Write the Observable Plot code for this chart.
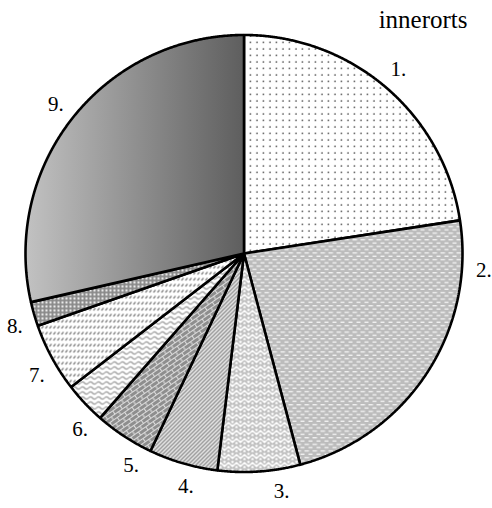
<!DOCTYPE html>
<html>
<head>
<meta charset="utf-8">
<script src="https://cdn.jsdelivr.net/npm/d3@7"></script>
<script src="https://cdn.jsdelivr.net/npm/@observablehq/plot@0.6"></script>
<style>
  html, body { margin: 0; padding: 0; background: #fff; }
  svg { display: block; }
</style>
</head>
<body>
<div id="chart"></div>
<script>
// ---- data ----
const categories = ["1.", "2.", "3.", "4.", "5.", "6.", "7.", "8.", "9."];
const values = [22.6, 23.3, 6.1, 5.1, 4.4, 3.1, 5.1, 1.8, 28.6];
const title = "innerorts";
// label placement angles (degrees clockwise from 12 o'clock) — layout only
const labelAngles = [40, 94, 171, 194, 208, 223, 239.5, 252.5, 308.5];

// ---- layout ----
const W = 492, H = 508;
const cx = 243.5, cy = 253, R = 218.5;

const arcs = d3.pie().sort(null).value(d => d)(values);

// polygon points for each slice, in unit-radius data coordinates
const points = [];
arcs.forEach((a, i) => {
  points.push({key: i, x: 0, y: 0});
  const n = Math.max(2, Math.ceil((a.endAngle - a.startAngle) / (Math.PI / 720)));
  for (let k = 0; k <= n; k++) {
    const t = a.startAngle + (a.endAngle - a.startAngle) * k / n;
    points.push({key: i, x: Math.sin(t), y: Math.cos(t)});
  }
  points.push({key: i, x: 0, y: 0});
});

const labels = categories.map((c, i) => {
  const t = labelAngles[i] * Math.PI / 180;
  return {text: c, x: 1.1 * Math.sin(t), y: 1.1 * Math.cos(t)};
});

const sliceMarks = arcs.map((a, i) =>
  Plot.line(points.filter(p => p.key === i), {
    x: "x", y: "y",
    fill: `url(#pat${i + 1})`,
    stroke: "#000",
    strokeWidth: 2.6,
    strokeLinejoin: "miter"
  })
);

const svg = Plot.plot({
  width: W,
  height: H,
  margin: 0,
  x: {domain: [-1, 1], range: [cx - R, cx + R], axis: null},
  y: {domain: [-1, 1], range: [cy + R, cy - R], axis: null},
  style: {fontFamily: "'Liberation Serif', 'Times New Roman', serif", background: "#fff"},
  marks: [
    ...sliceMarks,
    Plot.text(labels, {x: "x", y: "y", text: "text", fontSize: 21, fill: "#000", textAnchor: "middle", lineAnchor: "middle"}),
    Plot.text([title], {frameAnchor: "top-right", dx: -25, dy: 19, fontSize: 25, fill: "#000", lineAnchor: "middle", textAnchor: "end"})
  ]
});

const defs = `
<defs>
  <pattern id="pat1" patternUnits="userSpaceOnUse" width="6.5" height="6.5">
    <rect width="6.5" height="6.5" fill="#fff"/>
    <circle cx="3" cy="3" r="0.8" fill="#444"/>
  </pattern>
  <pattern id="pat2" patternUnits="userSpaceOnUse" width="8" height="6.6">
    <rect width="8" height="6.6" fill="#bcbcbc"/>
    <rect x="0" y="1" width="4.5" height="1.3" fill="#f4f4f4"/>
    <rect x="4" y="4.3" width="4.5" height="1.3" fill="#f4f4f4"/>
  </pattern>
  <pattern id="pat3" patternUnits="userSpaceOnUse" width="8" height="8">
    <rect width="8" height="8" fill="#fff"/>
    <path d="M0 4 L4 0 L8 4 M0 8 L4 4 L8 8 M2 2 L2 6 M6 2 L6 6" stroke="#b2b2b2" stroke-width="1.2" fill="none"/>
  </pattern>
  <pattern id="pat4" patternUnits="userSpaceOnUse" width="4" height="4">
    <rect width="4" height="4" fill="#fff"/>
    <path d="M-1 1 L1 -1 M0 4 L4 0 M3 5 L5 3" stroke="#858585" stroke-width="1.5"/>
  </pattern>
  <pattern id="pat5" patternUnits="userSpaceOnUse" width="9" height="8" patternTransform="rotate(-35)">
    <rect width="9" height="8" fill="#8e8e8e"/>
    <path d="M0 0.5 H9 M0 4.5 H9 M0.5 0.5 V4.5 M5 4.5 V8.5" stroke="#dcdcdc" stroke-width="1.1" fill="none"/>
  </pattern>
  <pattern id="pat6" patternUnits="userSpaceOnUse" width="8" height="5">
    <rect width="8" height="5" fill="#fff"/>
    <path d="M0 2.5 Q2 0.3 4 2.5 T8 2.5" stroke="#9a9a9a" stroke-width="1.2" fill="none"/>
  </pattern>
  <pattern id="pat7" patternUnits="userSpaceOnUse" width="4" height="6">
    <rect width="4" height="6" fill="#fff"/>
    <path d="M1 4 L3 1.5" stroke="#555" stroke-width="1.2"/>
  </pattern>
  <pattern id="pat8" patternUnits="userSpaceOnUse" width="4" height="4">
    <rect width="4" height="4" fill="#8a8a8a"/>
    <circle cx="2" cy="2" r="1.15" fill="#f0f0f0"/>
  </pattern>
  <linearGradient id="pat9" x1="0" x2="1" y1="0" y2="0">
    <stop offset="0" stop-color="#c2c2c2"/>
    <stop offset="1" stop-color="#5e5e5e"/>
  </linearGradient>
</defs>`;
svg.insertAdjacentHTML("afterbegin", defs);
document.getElementById("chart").appendChild(svg);
</script>
</body>
</html>
